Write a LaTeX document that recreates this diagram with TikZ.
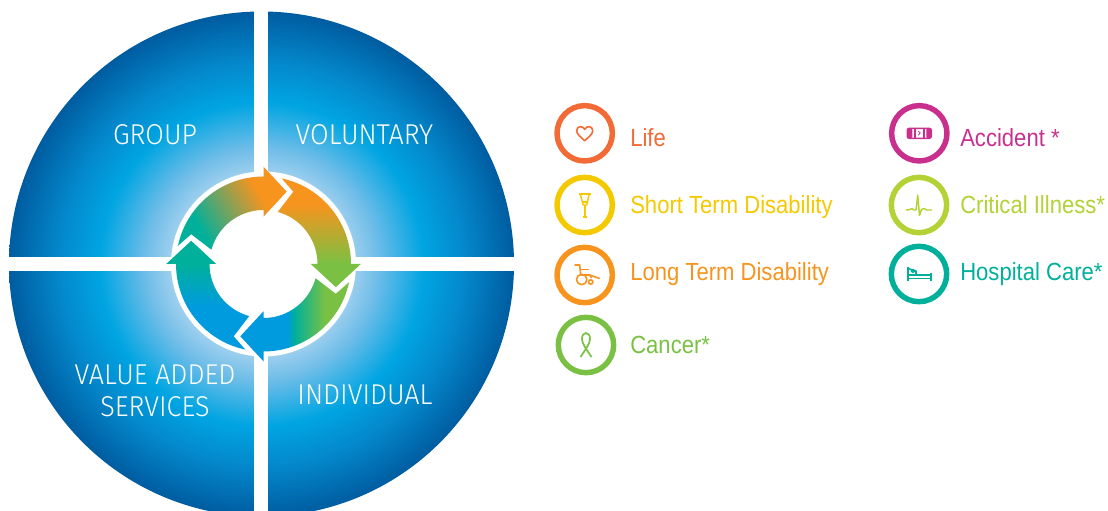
\documentclass[tikz,border=0pt]{standalone}
\usepackage{fontspec}
\usepackage{xcolor}
\setmainfont{Liberation Sans}[FakeStretch=0.89]
\newfontfamily\lightfont{Fira Sans Light}[FakeStretch=0.94]

\definecolor{lifecol}{HTML}{F26A36}
\definecolor{shortcol}{HTML}{F5C900}
\definecolor{longcol}{HTML}{F7941E}
\definecolor{cancercol}{HTML}{7AC143}
\definecolor{accidentcol}{HTML}{C9308E}
\definecolor{illnesscol}{HTML}{B2D235}
\definecolor{hospitalcol}{HTML}{00B09B}
\definecolor{ringblue}{HTML}{009BDF}
\definecolor{glowa}{HTML}{C4E0F5}
\definecolor{glowb}{HTML}{A8D3F0}
\definecolor{glowc}{HTML}{6FBDE8}
\definecolor{glowd}{HTML}{00A5E2}
\definecolor{glowe}{HTML}{0488CC}
\definecolor{glowf}{HTML}{005CA0}

\pgfdeclareradialshading{diskglow}{\pgfpointorigin}{
  color(0bp)=(glowa);
  color(8.5bp)=(glowb);
  color(11.5bp)=(glowc);
  color(16bp)=(glowd);
  color(20bp)=(glowe);
  color(25bp)=(glowf);
  color(50bp)=(glowf)}
\pgfdeclarehorizontalshading{topgrad}{100bp}{
  color(0bp)=(hospitalcol); color(40.5bp)=(hospitalcol);
  color(58bp)=(longcol); color(100bp)=(longcol)}
\pgfdeclarehorizontalshading{rightgrad}{100bp}{
  color(0bp)=(longcol); color(35bp)=(longcol);
  color(50bp)=(cancercol); color(100bp)=(cancercol)}
\pgfdeclarehorizontalshading{bottomgrad}{100bp}{
  color(0bp)=(ringblue); color(56bp)=(ringblue); color(57.75bp)=(hospitalcol);
  color(65.5bp)=(cancercol); color(100bp)=(cancercol)}
\pgfdeclarehorizontalshading{leftgrad}{100bp}{
  color(0bp)=(ringblue); color(39.25bp)=(ringblue);
  color(50bp)=(hospitalcol); color(100bp)=(hospitalcol)}

\tikzset{
  disklabel/.style={text=white,align=center,font=\lightfont\fontsize{21.5}{25}\selectfont},
  legendring/.style={circle,draw,line width=4.1pt,minimum size=41.5pt,inner sep=0pt},
  legendtext/.style={anchor=base west,inner sep=0pt,font=\fontsize{18.6}{22}\selectfont},
  iconline/.style={line width=1.2pt,line join=round},
}

\newcommand{\ringarrow}[3]{
  \begin{scope}
    \clip[rotate=#1] (164.7:54) -- (-72.3,29.8) -- (168:87.5) arc (168:90:87.5) -- (0,97.3)
      -- (23.2,72.3) -- (0,47.3) -- (0,54) arc (90:164.7:54) -- cycle;
    \shade[shading=#2,shading angle=#3] (-100,-100) rectangle (100,100);
  \end{scope}
}

\begin{document}
\begin{tikzpicture}[x=0.75pt,y=0.75pt]
\useasboundingbox (0,0) rectangle (1108,511);
\clip (0,0) rectangle (1108,511);

%% Blue disk and white cross
\shade[shading=diskglow] (261.5,247) circle (252.5);
\fill[white] (254,0) rectangle (268,511);
\fill[white] (0,240) rectangle (530,254);

%% Ring of arrows
\begin{scope}[shift={(263.5,247)}]
    \fill[white] (0,0) circle (92.5);
    \ringarrow{0}{topgrad}{30}
    \ringarrow{-90}{rightgrad}{-90}
    \ringarrow{-180}{bottomgrad}{0}
    \ringarrow{90}{leftgrad}{90}
\end{scope}

\node[disklabel] (group) at (155,376.5) {GROUP};
\node[disklabel] (voluntary) at (364.5,376.5) {VOLUNTARY};
\node[disklabel] (services) at (155,120.5) {VALUE ADDED\\[-1pt]SERVICES};
\node[disklabel] (individual) at (365,116.5) {INDIVIDUAL};

%% Legend, left column
\node[legendring,draw=lifecol] (life) at (584.7,377.7) {};
\node[legendring,draw=shortcol] (short) at (584.7,306) {};
\node[legendring,draw=longcol] (long) at (584.7,236) {};
\node[legendring,draw=cancercol] (cancer) at (586,166) {};
\node[legendtext,text=lifecol] (lifetext) at (630,364) {Life};
\node[legendtext,text=shortcol] (shorttext) at (630,297.5) {Short Term Disability};
\node[legendtext,text=longcol] (longtext) at (630,230.5) {Long Term Disability};
\node[legendtext,text=cancercol] (cancertext) at (630,157.5) {Cancer*};

%% Legend, right column
\node[legendring,draw=accidentcol] (accident) at (919.3,377.7) {};
\node[legendring,draw=illnesscol] (illness) at (919,306) {};
\node[legendring,draw=hospitalcol] (hospital) at (919,237) {};
\node[legendtext,text=accidentcol] (accidenttext) at (960,364) {Accident *};
\node[legendtext,text=illnesscol] (illnesstext) at (960,297.5) {Critical Illness*};
\node[legendtext,text=hospitalcol] (hospitaltext) at (960,230.5) {Hospital Care*};

%% Icons
\begin{scope}[shift={(life)},iconline,draw=lifecol]
    \draw (0,-7.5) .. controls (-4,-3.5) and (-8,-1) .. (-8,2.5) .. controls (-8,7.5) and (-2,8) .. (0,4)
      .. controls (2,8) and (8,7.5) .. (8,2.5) .. controls (8,-1) and (4,-3.5) .. (0,-7.5) -- cycle;
\end{scope}
\begin{scope}[shift={(short)},iconline,draw=shortcol,line width=1.1pt]
    \draw (-5.5,11) -- (6,11);
    \draw (-4.5,11) -- (-1.5,0) -- (2,0) -- (4.5,11);
    \draw (-2.5,3) -- (3,3);
    \draw (0.2,0) -- (0.2,-12);
    \draw (-1.5,-12) -- (2,-12);
\end{scope}
\begin{scope}[shift={(long)},iconline,draw=longcol,line width=1.2pt]
    \draw (-10,10) -- (-5,10) -- (-4,0) -- (5,0) -- (7,-3);
    \draw (-4.5,5.5) -- (4,5.5);
    \draw (5,0) -- (15,-3.5);
    \draw (-3,-4.5) circle (5.2);
    \draw (6,-7) circle (2.2);
\end{scope}
\begin{scope}[shift={(cancer)},iconline,draw=cancercol,line width=1.3pt]
    \draw (-5.5,-12) .. controls (-1,-5) and (4,1) .. (4,6) .. controls (4,14) and (-4,14) .. (-4,6)
      .. controls (-4,1) and (1,-5) .. (5.5,-12);
\end{scope}
\begin{scope}[shift={(accident)},iconline,draw=accidentcol,line width=1.1pt]
    \draw[rounded corners=1.5] (-12,-5) rectangle (12,5);
    \fill[accidentcol,rounded corners=1] (-12,-5) rectangle (-7,5);
    \fill[accidentcol,rounded corners=1] (7,-5) rectangle (12,5);
    \draw (-4.5,-5) -- (-4.5,5);
    \draw (4.5,-5) -- (4.5,5);
    \draw[line width=0.6pt] (-1,2) -- (1,0.5) -- (-1,-2);
\end{scope}
\begin{scope}[shift={(illness)},iconline,draw=illnesscol,line width=1.1pt]
    \draw (-13,-5) -- (-9,-4.5) -- (-7,-3.5) -- (-5,-5) -- (-3,-5) -- (-1.3,10) -- (0.5,-10.5)
      -- (2.5,-4.5) -- (5,-3.5) -- (8,-5) -- (13,-5);
\end{scope}
\begin{scope}[shift={(hospital)},iconline,draw=hospitalcol,line width=1.2pt]
    \draw (-11,7) -- (-11,-7);
    \draw (12,1) -- (12,-7);
    \draw (-11,-1) -- (12,-1);
    \draw (-11,-4.5) -- (12,-4.5);
    \draw (-6,3) circle (1.6 and 1.2);
    \draw (-11,5.5) -- (-3,3) -- (-3,0);
\end{scope}

\end{tikzpicture}
\end{document}
